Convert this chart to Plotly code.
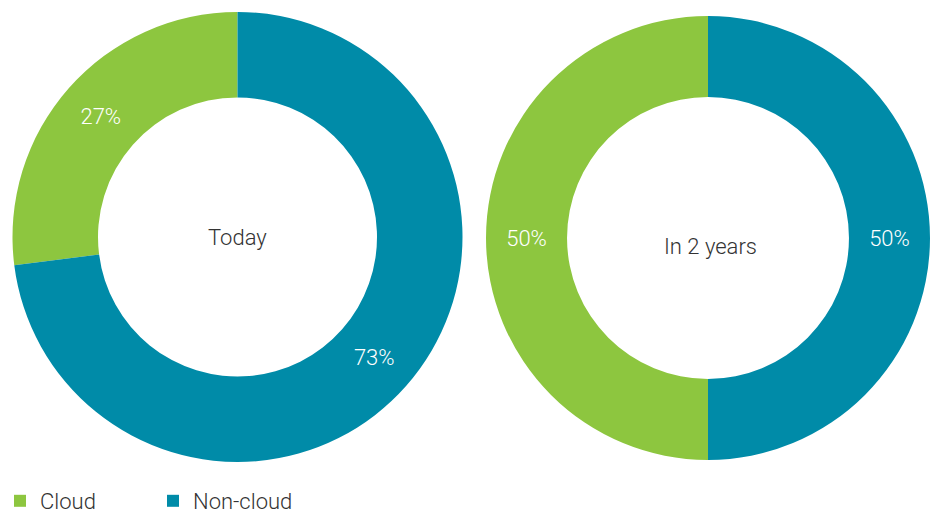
import plotly.graph_objects as go

W, H = 930, 513

categories = ["Cloud", "Non-cloud"]
today_values = [27, 73]
in2years_values = [50, 50]
center_labels = ["Today", "In 2 years"]
colors = ["#8DC63F", "#008BA8"]

FONT = "Roboto"
TEXT_COLOR = "#333333"


def start_rotation(values):
    # first slice (Cloud) ends at 12 o'clock, drawn on the left side
    return -360.0 * values[0] / sum(values)


fig = go.Figure()

fig.add_trace(go.Pie(
    labels=categories, values=today_values, hole=0.62,
    sort=False, direction="clockwise", rotation=start_rotation(today_values),
    marker=dict(colors=colors, line=dict(width=0)),
    texttemplate="%{value}%", textposition="inside",
    insidetextorientation="horizontal",
    textfont=dict(family=FONT, size=22, color="white", weight=300),
    domain=dict(x=[12.5 / W, 462.5 / W], y=[51 / H, 501 / H]),
    hoverinfo="label+percent", showlegend=True, name=center_labels[0],
))

fig.add_trace(go.Pie(
    labels=categories, values=in2years_values, hole=0.635,
    sort=False, direction="clockwise", rotation=start_rotation(in2years_values),
    marker=dict(colors=colors, line=dict(width=0)),
    texttemplate="%{value}%", textposition="inside",
    insidetextorientation="horizontal",
    textfont=dict(family=FONT, size=22, color="white", weight=300),
    domain=dict(x=[486 / W, 1.0], y=[50 / H, 500 / H]),
    hoverinfo="label+percent", showlegend=False, name=center_labels[1],
))

fig.add_annotation(x=237.5 / W, y=(H - 237) / H, xref="paper", yref="paper",
                   xanchor="center", yanchor="middle",
                   text=center_labels[0], showarrow=False,
                   font=dict(family=FONT, size=22, color=TEXT_COLOR, weight=300))
fig.add_annotation(x=710 / W, y=(H - 246) / H, xref="paper", yref="paper",
                   xanchor="center", yanchor="middle",
                   text=center_labels[1], showarrow=False,
                   font=dict(family=FONT, size=22, color=TEXT_COLOR, weight=300))

fig.update_layout(
    width=W, height=H,
    margin=dict(l=0, r=0, t=0, b=0, autoexpand=False),
    paper_bgcolor="white", plot_bgcolor="white",
    legend=dict(orientation="h", x=0, xanchor="left", y=(H - 501) / H, yanchor="middle",
                font=dict(family=FONT, size=22, color=TEXT_COLOR, weight=300),
                entrywidth=108, entrywidthmode="pixels",
                bgcolor="rgba(0,0,0,0)"),
)

fig.write_html(
    "out.html",
    config={"displayModeBar": False},
    post_script="document.body.style.margin='0';document.body.style.overflow='hidden';",
)
